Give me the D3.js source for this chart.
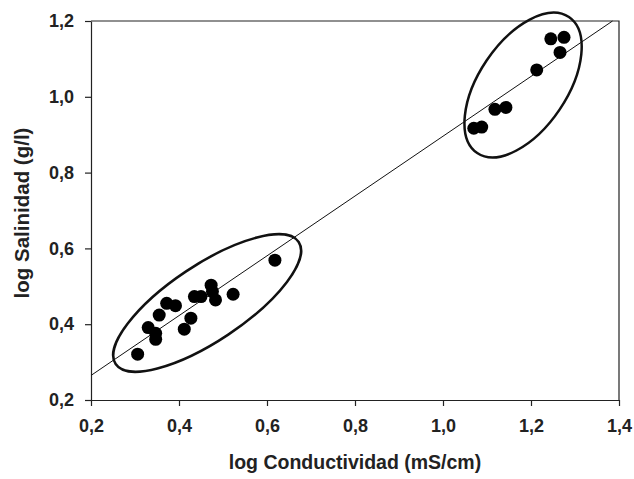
<!DOCTYPE html>
<html>
<head>
<meta charset="utf-8">
<script src="https://cdn.jsdelivr.net/npm/d3@7"></script>
<style>
    body { margin: 0; background: #fff; }
    svg { display: block; font-family: "Liberation Sans", Arial, sans-serif; }
    .axis path, .axis line { stroke: #222; stroke-width: 1.2; }
    .axis text { font-size: 18px; font-weight: bold; fill: #222; }
    .axis-title { font-weight: bold; fill: #222; }
</style>
</head>
<body>
<div id="app"></div>
<script>
// valores (log conductividad, log salinidad)
const conductividad = [
    0.306, 0.330, 0.347, 0.347, 0.355, 0.372, 0.392, 0.412, 0.427, 0.435,
    0.450, 0.473, 0.476, 0.483, 0.523, 0.618,
    1.070, 1.088, 1.118, 1.143, 1.213, 1.245, 1.275, 1.266,
];
const salinidad = [
    0.321, 0.391, 0.376, 0.360, 0.424, 0.455, 0.449, 0.387, 0.416, 0.473,
    0.473, 0.503, 0.486, 0.464, 0.479, 0.569,
    0.917, 0.920, 0.967, 0.972, 1.071, 1.153, 1.157, 1.117,
];
const xTicks = [0.2, 0.4, 0.6, 0.8, 1.0, 1.2, 1.4];
const yTicks = [0.2, 0.4, 0.6, 0.8, 1.0, 1.2];

// recta de ajuste
const fitIntercept = 0.107;
const fitSlope = 0.789;

// centros de los dos grupos marcados con elipses
const grupoX = [0.464, 1.182];
const grupoY = [0.456, 1.031];

const margin = { top: 21, right: 15, bottom: 79, left: 91 };
const width = 634 - margin.left - margin.right;
const height = 479 - margin.top - margin.bottom;

const svg = d3
    .select("#app")
    .append("svg")
    .attr("width", 634)
    .attr("height", 479);

const g = svg
    .append("g")
    .attr("transform", "translate(" + margin.left + "," + margin.top + ")");

const x = d3.scaleLinear().domain([0.2, 1.4]).range([0, width]);
const y = d3.scaleLinear().domain([0.2, 1.2]).range([height, 0]);

const fmt = (d) => d3.format(".1f")(d).replace(".", ",");

// marco superior y derecho
g.append("path")
    .attr("d", `M0,0 H${width} V${height}`)
    .attr("fill", "none")
    .attr("stroke", "#222")
    .attr("stroke-width", 1.2);

g.append("g")
    .attr("class", "axis")
    .attr("transform", "translate(0," + height + ")")
    .call(d3.axisBottom(x).tickValues(xTicks).tickFormat(fmt).tickSize(6).tickSizeOuter(0).tickPadding(13));

g.append("g")
    .attr("class", "axis")
    .call(d3.axisLeft(y).tickValues(yTicks).tickFormat(fmt).tickSize(6).tickSizeOuter(0).tickPadding(11));

// recta de regresion, recortada en el borde superior
const xEnd = Math.min(1.4, (1.2 - fitIntercept) / fitSlope);
g.append("line")
    .attr("x1", x(0.2))
    .attr("y1", y(fitIntercept + fitSlope * 0.2))
    .attr("x2", x(xEnd))
    .attr("y2", y(fitIntercept + fitSlope * xEnd))
    .attr("stroke", "#111")
    .attr("stroke-width", 1);

g.selectAll(".dot")
    .data(conductividad.map((c, i) => [c, salinidad[i]]))
    .enter()
    .append("circle")
    .attr("class", "dot")
    .attr("cx", (d) => x(d[0]))
    .attr("cy", (d) => y(d[1]))
    .attr("r", 6.5)
    .attr("fill", "#000");

// elipses a mano alzada alrededor de cada grupo
const forma = [
    { rx: 110, ry: 38, rot: -33.7 },
    { rx: 82, ry: 44, rot: -56 },
];
g.selectAll(".grupo")
    .data(grupoX.map((gx, i) => ({ gx, gy: grupoY[i], ...forma[i] })))
    .enter()
    .append("ellipse")
    .attr("class", "grupo")
    .attr("transform", (d) => `translate(${x(d.gx)},${y(d.gy)}) rotate(${d.rot})`)
    .attr("rx", (d) => d.rx)
    .attr("ry", (d) => d.ry)
    .attr("fill", "none")
    .attr("stroke", "#111")
    .attr("stroke-width", 2.5);

svg.append("text")
    .attr("class", "axis-title")
    .attr("text-anchor", "middle")
    .attr("x", margin.left + width / 2)
    .attr("y", 469)
    .style("font-size", "19.5px")
    .text("log Conductividad (mS/cm)");

svg.append("text")
    .attr("class", "axis-title")
    .attr("text-anchor", "middle")
    .attr("transform", "translate(29,213) rotate(-90)")
    .style("font-size", "20.5px")
    .text("log Salinidad (g/l)");
</script>
</body>
</html>
